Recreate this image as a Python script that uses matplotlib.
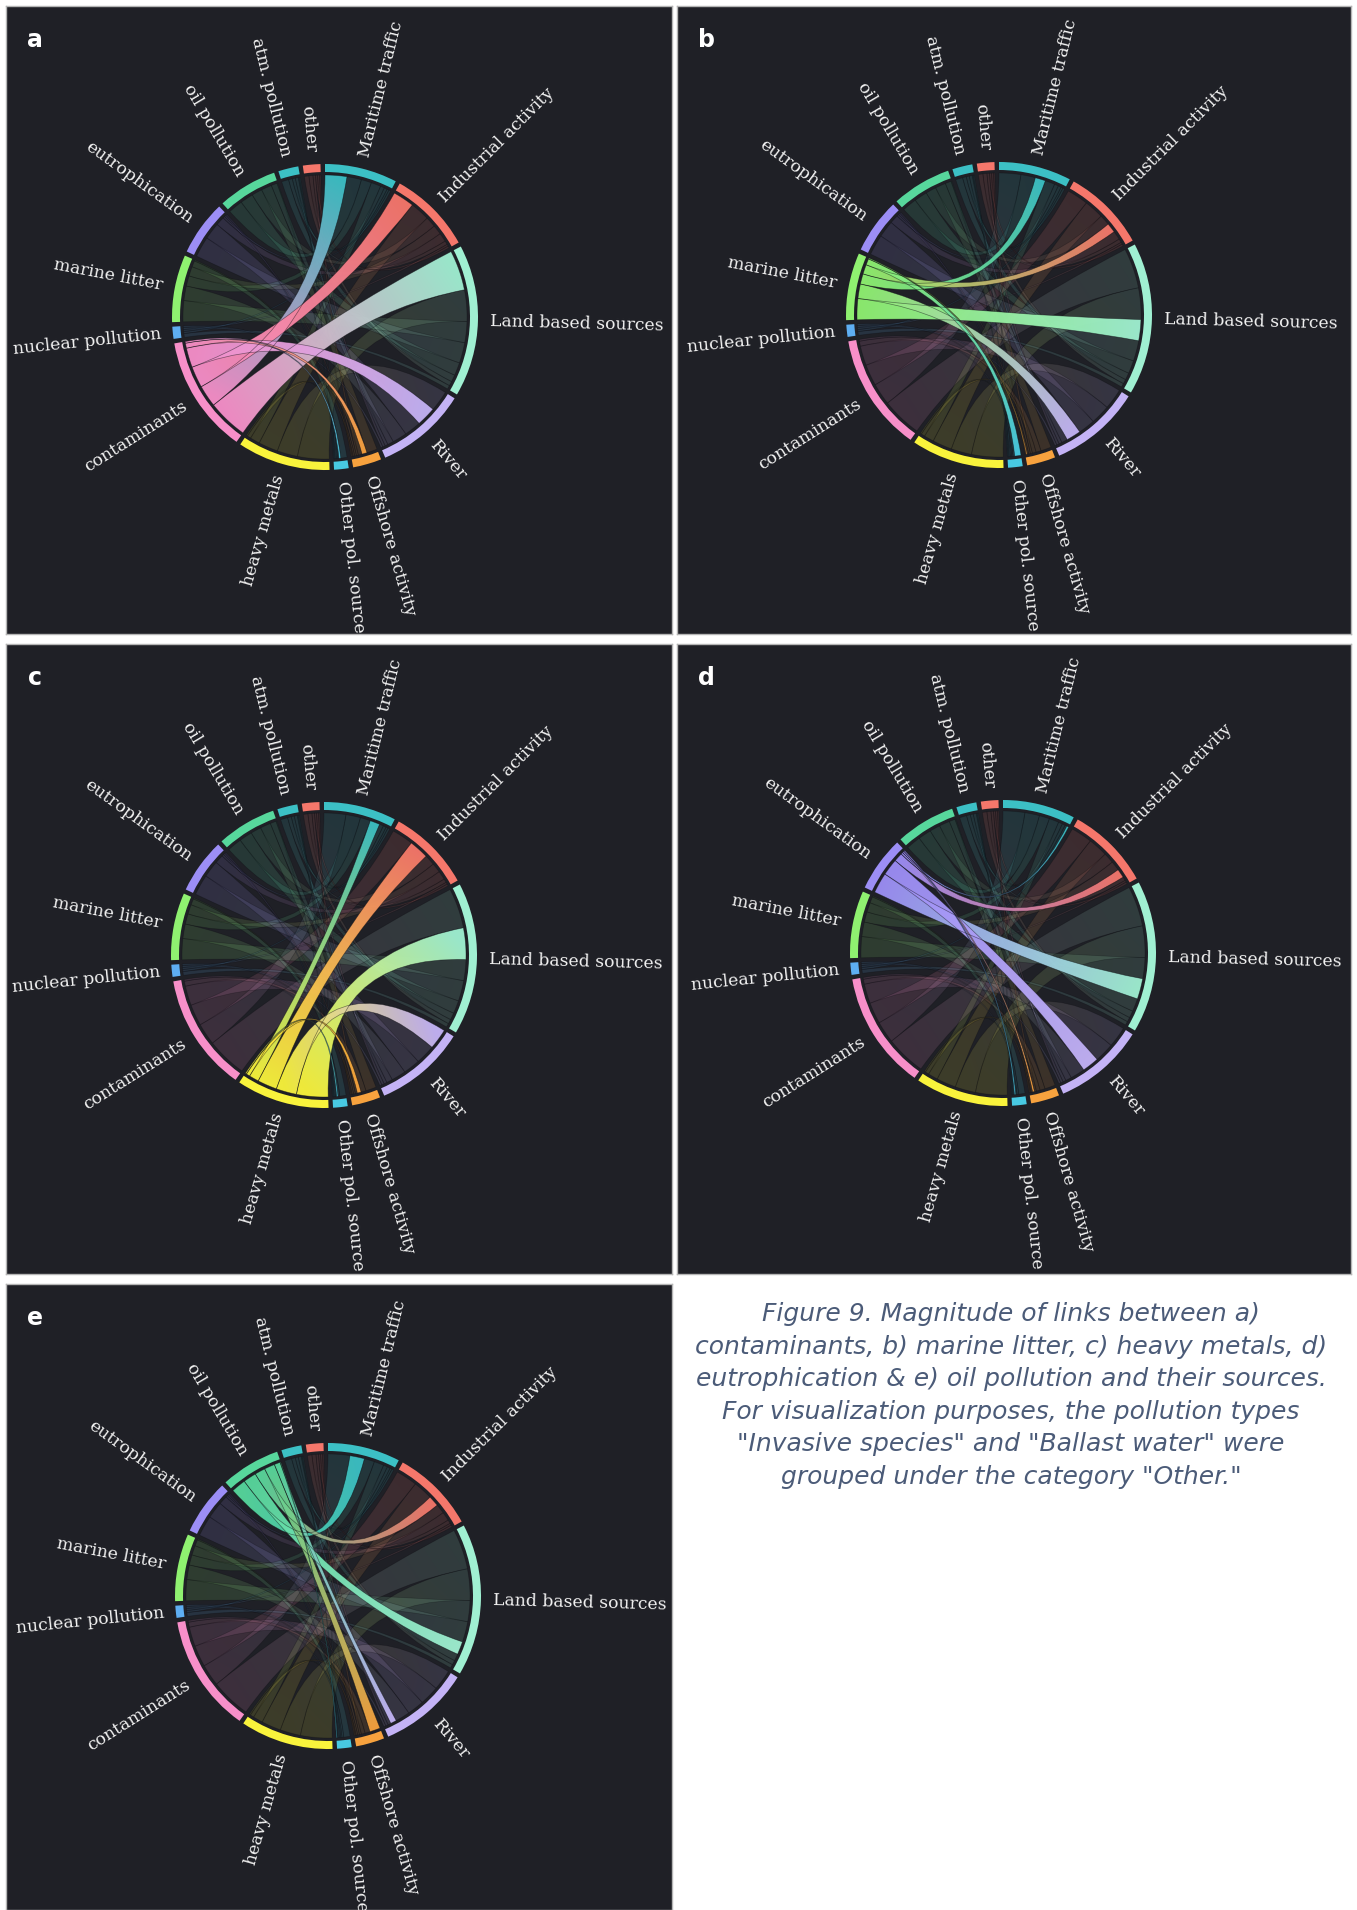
import numpy as np
import matplotlib.pyplot as plt
from matplotlib.path import Path
from matplotlib.patches import PathPatch, Wedge
from matplotlib.colors import to_rgb

# groups, clockwise from 12 o'clock: sources first, then pollution types
sources = ["Maritime traffic", "Industrial activity", "Land based sources",
           "River", "Offshore activity", "Other pol. source"]
pollution = ["heavy metals", "contaminants", "nuclear pollution", "marine litter",
             "eutrophication", "oil pollution", "atm. pollution", "other"]

# magnitude of links, rows = pollution type, columns = source (same order as above)
links = [
    [39, 78, 126, 82, 15, 5],    # heavy metals
    [87, 85, 160, 78, 20, 7],    # contaminants
    [8, 8, 15, 8, 6, 0],         # nuclear pollution
    [41, 38, 84, 58, 4, 25],     # marine litter
    [8, 35, 82, 67, 7, 5],       # eutrophication
    [58, 42, 52, 24, 42, 3],     # oil pollution
    [12, 15, 28, 12, 4, 4],      # atm. pollution
    [16, 8, 18, 10, 8, 5],       # other
]

palette = ["#3cc0c5", "#f5776b", "#a0f0d2", "#c4b3f6", "#f7a23e", "#48c9e2",
           "#f9f33c", "#f78fc9", "#5eaef2", "#8ff170", "#9c8ef6", "#57d79c"]

panel_letters = ["a", "b", "c", "d", "e"]
panel_focus = ["contaminants", "marine litter", "heavy metals", "eutrophication", "oil pollution"]

caption = ("Figure 9. Magnitude of links between a)\n"
           "contaminants, b) marine litter, c) heavy metals, d)\n"
           "eutrophication & e) oil pollution and their sources.\n"
           "For visualization purposes, the pollution types\n"
           "\"Invasive species\" and \"Ballast water\" were\n"
           "grouped under the category \"Other.\"")

BG = "#1f2026"
W, H = 1357, 1910
R_OUT, RING, R_RIB = 153, 8, 142
PAD = 1.7

names = sources + pollution
n = len(names)
ns = len(sources)
M = np.zeros((n, n))
L = np.array(links, dtype=float)
M[ns:, :ns] = L
M[:ns, ns:] = L.T
colors = [palette[i % len(palette)] for i in range(n)]


def chord_layout(m, pad):
    k = (360 - len(m) * pad) / m.sum()
    groups, subs = [], {}
    a = 0.0
    for i in range(len(m)):
        start = a
        for j in sorted(range(len(m)), key=lambda j: -m[i, j]):
            subs[(i, j)] = (a, a + m[i, j] * k)
            a += m[i, j] * k
        groups.append((start, a))
        a += pad
    return groups, subs


def pt(theta, r):
    t = np.radians(theta)
    return (r * np.sin(t), r * np.cos(t))


def ribbon(s, t, r):
    verts, codes = [], []
    arc = np.linspace(s[0], s[1], max(2, int((s[1] - s[0]) * 3) + 2))
    for q, th in enumerate(arc):
        verts.append(pt(th, r))
        codes.append(Path.MOVETO if q == 0 else Path.LINETO)
    verts += [(0, 0), pt(t[0], r)]
    codes += [Path.CURVE3, Path.CURVE3]
    arc = np.linspace(t[0], t[1], max(2, int((t[1] - t[0]) * 3) + 2))
    for th in arc[1:]:
        verts.append(pt(th, r))
        codes.append(Path.LINETO)
    verts += [(0, 0), pt(s[0], r)]
    codes += [Path.CURVE3, Path.CURVE3]
    verts.append((0, 0))
    codes.append(Path.CLOSEPOLY)
    return Path(verts, codes)


groups, subs = chord_layout(M, PAD)
g = np.linspace(-R_OUT, R_OUT, 160)
GX, GY = np.meshgrid(g, g)


def draw_chord(ax, i, j, alpha, z, edge):
    s, t = subs[(i, j)], subs[(j, i)]
    path = ribbon(s, t, R_RIB)
    patch = PathPatch(path, facecolor="none", edgecolor=edge, lw=0.5, zorder=z + 0.1)
    ax.add_patch(patch)
    ps = np.array(pt((s[0] + s[1]) / 2, R_RIB))
    pe = np.array(pt((t[0] + t[1]) / 2, R_RIB))
    d = pe - ps
    f = np.clip(((GX - ps[0]) * d[0] + (GY - ps[1]) * d[1]) / (d @ d), 0, 1)[..., None]
    c1 = np.array(to_rgb(colors[i]))
    c2 = np.array(to_rgb(colors[j]))
    img = np.ones((len(g), len(g), 4))
    img[..., :3] = c1 * (1 - f) + c2 * f
    img[..., 3] = alpha
    im = ax.imshow(img, extent=(-R_OUT, R_OUT, -R_OUT, R_OUT), origin="lower",
                   interpolation="bilinear", aspect="auto", zorder=z)
    im.set_clip_path(patch)


fig = plt.figure(figsize=(W / 100, H / 100), dpi=100, facecolor="white")

# panel boxes (px): x0, y0, x1, y1 and circle centre inside the panel
boxes = [(6, 6, 672, 634), (677, 6, 1351, 634), (6, 644, 672, 1274),
         (677, 644, 1351, 1274), (6, 1284, 672, 1910)]
centres = [(319, 311), (322, 309), (318, 311), (326, 309), (322, 312)]

for letter, focus, (x0, y0, x1, y1), (cx, cy) in zip(panel_letters, panel_focus, boxes, centres):
    w, h = x1 - x0, y1 - y0
    ax = fig.add_axes([x0 / W, 1 - y1 / H, w / W, h / H])
    ax.set_facecolor(BG)
    ax.set_xticks([])
    ax.set_yticks([])
    for sp in ax.spines.values():
        sp.set_color("#b5b5b5")
        sp.set_linewidth(1.0)
    fi = names.index(focus)

    for i in range(ns, n):
        for j in range(ns):
            if M[i, j] > 0 and i != fi:
                draw_chord(ax, i, j, 0.14, 1, (0.03, 0.03, 0.05, 0.3))
    for j in range(ns):
        if M[fi, j] > 0:
            draw_chord(ax, fi, j, 0.96, 2, (0.05, 0.05, 0.07, 0.5))

    for i, (a0, a1) in enumerate(groups):
        ax.add_patch(Wedge((0, 0), R_OUT, 90 - a1, 90 - a0, width=RING,
                           facecolor=colors[i], edgecolor="none", zorder=3))
        mid = (a0 + a1) / 2
        x, y = pt(mid, R_OUT + 12)
        if mid < 180:
            rot, ha = 90 - mid, "left"
        else:
            rot, ha = 270 - mid, "right"
        ax.text(x, y, names[i], rotation=rot, ha=ha, va="center",
                rotation_mode="anchor", family="DejaVu Serif", fontsize=12.4,
                color="#f2f2f2", zorder=4)

    ax.text(29 - cx, cy - 34, letter, ha="center", va="center", fontsize=17,
            fontweight="bold", color="white", family="DejaVu Sans")
    ax.set_xlim(-cx, w - cx)
    ax.set_ylim(-(h - cy), cy)

fig.text(1011 / W, 1 - 1302 / H, caption, ha="center", va="top", fontsize=18,
         style="italic", color="#4b5b78", linespacing=1.45, family="DejaVu Sans")

fig.savefig("out.png", dpi=100, facecolor="white")
